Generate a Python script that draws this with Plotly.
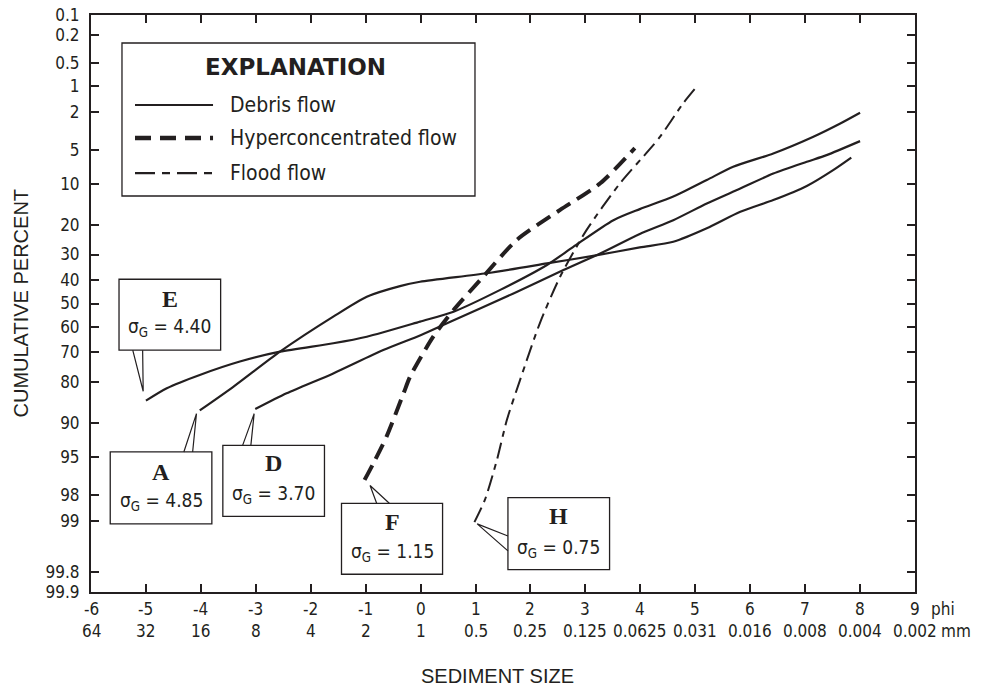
import plotly.graph_objects as go
from statistics import NormalDist

ND = NormalDist()


def zq(p):
    return ND.inv_cdf(p / 100.0)


# ---------------- data (phi, cumulative percent) ----------------
E_phi = [-5.00, -4.62, -4.02, -3.29, -2.56, -1.59, -0.98, -0.01, 0.60, 1.45, 2.30, 2.78, 3.51, 3.99, 4.60, 5.21, 5.69, 6.42, 7.15, 7.64, 8.00]
E_pct = [85.1, 81.8, 77.8, 73.3, 69.7, 66.5, 63.9, 57.7, 53.5, 44.2, 34.0, 27.2, 18.6, 15.6, 12.6, 9.3, 7.15, 5.4, 3.7, 2.69, 2.05]

D_phi = [-3.01, -2.44, -1.59, -0.68, 0.01, 0.48, 1.69, 2.60, 3.27, 3.99, 4.60, 5.21, 5.82, 6.42, 7.03, 7.39, 8.00]
D_pct = [87.1, 83.2, 77.3, 69.1, 63.2, 58.4, 45.7, 36.0, 29.6, 22.8, 18.6, 14.2, 10.9, 8.2, 6.45, 5.6, 4.1]

A_phi = [-4.02, -3.41, -2.56, -1.59, -0.98, -0.375, -0.01, 1.20, 2.30, 3.14, 3.99, 4.60, 5.21, 5.82, 6.42, 7.03, 7.51, 7.84]
A_pct = [87.4, 81.4, 69.7, 55.6, 47.1, 42.6, 40.8, 37.3, 33.4, 30.5, 27.4, 25.4, 21.0, 16.3, 13.4, 10.4, 7.65, 5.9]

F_phi = [-1.02, -0.86, -0.62, -0.31, -0.19, 0.23, 0.60, 1.14, 1.75, 2.54, 3.27, 3.90]
F_pct = [97.06, 95.65, 92.3, 83.2, 78.3, 63.9, 52.8, 38.7, 24.8, 15.8, 9.9, 4.8]

H_phi = [0.98, 1.17, 1.39, 1.57, 1.81, 2.17, 2.54, 3.02, 3.63, 4.16, 4.36, 4.78, 5.00]
H_pct = [99.04, 98.23, 95.3, 89.4, 79.4, 58.4, 38.7, 21.6, 9.9, 5.0, 3.7, 1.6, 1.06]

y_tick_labels = ["0.1", "0.2", "0.5", "1", "2", "5", "10", "20", "30", "40", "50", "60",
                 "70", "80", "90", "95", "98", "99", "99.8", "99.9"]
phi_ticks = [-6, -5, -4, -3, -2, -1, 0, 1, 2, 3, 4, 5, 6, 7, 8, 9]
mm_labels = ["64", "32", "16", "8", "4", "2", "1", "0.5", "0.25", "0.125", "0.0625",
             "0.031", "0.016", "0.008", "0.004", "0.002"]

legend_names = ["Debris flow", "Hyperconcentrated flow", "Flood flow"]

# callout labels: letter, sigma, box (phi0, phi1, z_top, z_bottom), pointer (base1, tip, base2)
callouts = [
    dict(letter="E", sigma="4.40", box=(-5.49, -3.64, -0.26, 0.50),
         ptr=[(-5.24, 0.50), (-5.05, 0.94), (-5.06, 0.50)], ly=-0.05, sy=0.26),
    dict(letter="A", sigma="4.85", box=(-5.65, -3.80, 1.59, 2.36),
         ptr=[(-4.31, 1.59), (-4.08, 1.18), (-4.15, 1.59)], ly=1.80, sy=2.12),
    dict(letter="D", sigma="3.70", box=(-3.60, -1.75, 1.52, 2.28),
         ptr=[(-3.24, 1.52), (-3.03, 1.18), (-3.09, 1.52)], ly=1.71, sy=2.05),
    dict(letter="F", sigma="1.15", box=(-1.44, 0.40, 2.14, 2.90),
         ptr=[(-0.80, 2.14), (-0.92, 1.95), (-0.57, 2.14)], ly=2.34, sy=2.67),
    dict(letter="H", sigma="0.75", box=(1.59, 3.44, 2.08, 2.85),
         ptr=[(1.59, 2.49), (1.03, 2.36), (1.59, 2.65)], ly=2.28, sy=2.62),
]

INK = "#231f20"
NARROW = "Liberation Sans Narrow, DejaVu Sans Condensed, Arial Narrow, sans-serif"
SANS = "Liberation Sans, Arial, sans-serif"

fig = go.Figure()


def add_curve(phis, pcts, dash, width):
    fig.add_trace(go.Scatter(
        x=phis, y=[zq(p) for p in pcts], mode="lines",
        line=dict(color=INK, width=width, dash=dash, shape="spline", smoothing=0.7),
        showlegend=False, hoverinfo="skip"))


add_curve(E_phi, E_pct, "solid", 2.2)
add_curve(D_phi, D_pct, "solid", 2.2)
add_curve(A_phi, A_pct, "solid", 2.2)
add_curve(F_phi, F_pct, "16px,8px", 4)
add_curve(H_phi, H_pct, "16px,6px,6px,6px", 2)

shapes = []
annotations = []

# callout boxes
for c in callouts:
    x0, x1, y0, y1 = c["box"]
    shapes.append(dict(type="rect", xref="x", yref="y", x0=x0, x1=x1, y0=y0, y1=y1,
                       line=dict(color=INK, width=1.3), fillcolor="white", layer="above"))
    p = c["ptr"]
    path = "M %f,%f L %f,%f L %f,%f" % (p[0][0], p[0][1], p[1][0], p[1][1], p[2][0], p[2][1])
    shapes.append(dict(type="path", xref="x", yref="y", path=path,
                       line=dict(color=INK, width=1.2), layer="above"))
    xc = (x0 + x1) / 2
    annotations.append(dict(x=xc, y=c["ly"], xref="x", yref="y", text="<b>%s</b>" % c["letter"],
                            xanchor="center", yanchor="middle", showarrow=False,
                            font=dict(family="Liberation Serif, Times New Roman, serif", size=24, color=INK)))
    annotations.append(dict(x=xc, y=c["sy"], xref="x", yref="y",
                            text="σ<sub>G</sub> = %s" % c["sigma"], showarrow=False,
                            xanchor="center", yanchor="middle",
                            font=dict(family=NARROW, size=19, color=INK)))

# legend box (explanation)
shapes.append(dict(type="rect", xref="paper", yref="paper", x0=0.0376, x1=0.4660, y0=0.6863,
                   y1=0.9515, line=dict(color=INK, width=1.3), fillcolor="white", layer="above"))
annotations.append(dict(x=0.2476, y=0.9104, xref="paper", yref="paper", text="<b>EXPLANATION</b>",
                        xanchor="center", yanchor="middle", showarrow=False,
                        font=dict(family="DejaVu Sans, Liberation Sans, sans-serif", size=23, color=INK)))
leg_rows = [0.844, 0.787, 0.726]
leg_styles = [("solid", 2.2), ("16px,9px", 4.5), ("20px,7px,8px,7px", 2.2)]
for name, yy, (dash, w) in zip(legend_names, leg_rows, leg_styles):
    shapes.append(dict(type="line", xref="paper", yref="paper", x0=0.0534, x1=0.1481, y0=yy, y1=yy,
                       line=dict(color=INK, width=w, dash=dash), layer="above"))
    annotations.append(dict(x=0.1663, y=yy, xref="paper", yref="paper", text=name, showarrow=False,
                            xanchor="left", yanchor="middle", font=dict(family=NARROW, size=21, color=INK)))

# x tick labels (two rows)
for ph, mm in zip(phi_ticks, mm_labels):
    annotations.append(dict(x=ph, y=0, xref="x", yref="paper", text=str(ph), showarrow=False,
                            xanchor="center", yanchor="middle", yshift=-17,
                            font=dict(family=NARROW, size=17, color=INK)))
    annotations.append(dict(x=ph, y=0, xref="x", yref="paper", text=mm, showarrow=False,
                            xanchor="center", yanchor="middle", yshift=-39,
                            font=dict(family=NARROW, size=17, color=INK)))
annotations.append(dict(x=9, y=0, xref="x", yref="paper", text="phi", showarrow=False, xanchor="left",
                        yanchor="middle", yshift=-17, xshift=14, font=dict(family=NARROW, size=17, color=INK)))
annotations.append(dict(x=9, y=0, xref="x", yref="paper", text="mm", showarrow=False, xanchor="left",
                        yanchor="middle", yshift=-39, xshift=24, font=dict(family=NARROW, size=17, color=INK)))

# axis titles
annotations.append(dict(x=0, y=0.5, xref="paper", yref="paper", text="CUMULATIVE PERCENT", showarrow=False,
                        textangle=-90, xanchor="center", yanchor="middle", xshift=-71,
                        font=dict(family=SANS, size=20, color=INK)))
annotations.append(dict(x=0.493, y=0, xref="paper", yref="paper", text="SEDIMENT SIZE", showarrow=False,
                        xanchor="center", yanchor="middle", yshift=-84,
                        font=dict(family=SANS, size=20, color=INK)))

fig.update_layout(
    width=982, height=690,
    margin=dict(l=91, r=67, t=15, b=98, autoexpand=False),
    paper_bgcolor="white", plot_bgcolor="white",
    shapes=shapes, annotations=annotations,
    showlegend=False,
)
fig.update_xaxes(range=[-6, 9], tickvals=phi_ticks, showticklabels=False, ticks="inside", ticklen=8,
                 tickwidth=1.5, tickcolor=INK, showline=True, linecolor=INK, linewidth=2, mirror="ticks",
                 showgrid=False, zeroline=False, automargin=False)
fig.update_yaxes(range=[zq(99.9), zq(0.1)], tickvals=[zq(float(v)) for v in y_tick_labels],
                 ticktext=y_tick_labels, ticks="inside", ticklen=8, tickwidth=1.5, tickcolor=INK,
                 showline=True, linecolor=INK, linewidth=2, mirror="ticks", showgrid=False, zeroline=False,
                 ticklabelstandoff=6, automargin=False, tickfont=dict(family=NARROW, size=17, color=INK))

fig.write_html("out.html", config={"displayModeBar": False},
               post_script="document.body.style.margin='0';document.body.style.overflow='hidden';")
